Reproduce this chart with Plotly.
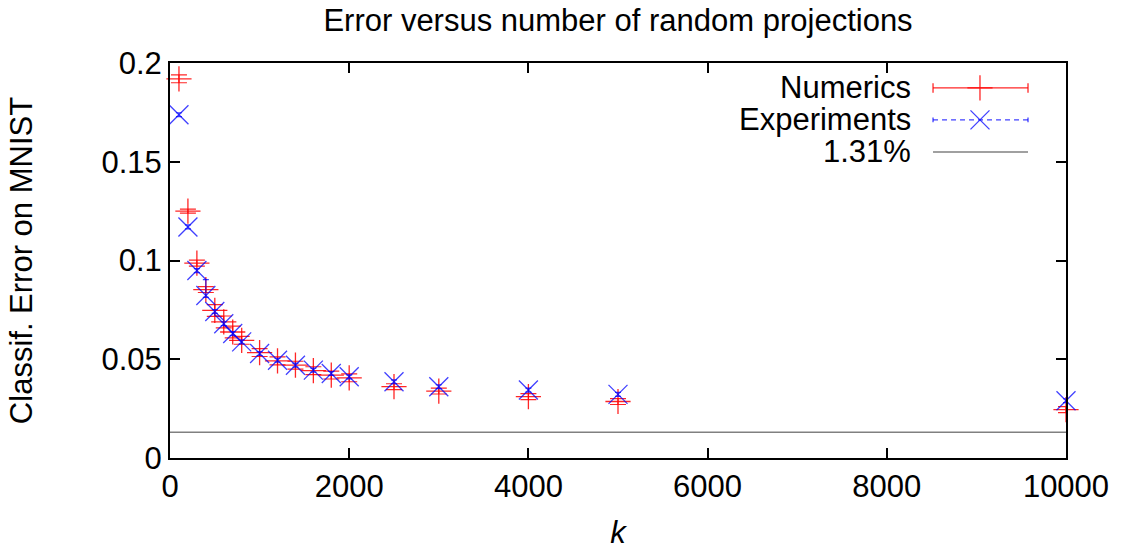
import plotly.graph_objects as go

# ---- data ----
k_values = [100, 200, 300, 400, 500, 600, 700, 800, 1000, 1200, 1400, 1600, 1800, 2000, 2500, 3000, 4000, 5000, 10000]
numerics = [0.192, 0.125, 0.0987, 0.0853, 0.0747, 0.0689, 0.0638, 0.0596, 0.0534, 0.0492, 0.0470, 0.0442,
            0.0420, 0.0406, 0.0361, 0.0339, 0.0311, 0.0286, 0.0245]
numerics_err = [0.002, 0.001, 0.0015, 0.0015, 0.003, 0.003, 0.003, 0.002, 0.002, 0.002, 0.002, 0.002,
                0.002, 0.002, 0.0015, 0.0015, 0.0015, 0.0015, 0.0015]
experiments = [0.1738, 0.117, 0.0949, 0.0823, 0.0742, 0.068, 0.063, 0.0588, 0.0529, 0.0495, 0.0470, 0.0445,
               0.0428, 0.0411, 0.0386, 0.0361, 0.0344, 0.0322, 0.029]
experiments_err_up = [0.001, 0.001, 0.001, 0.008, 0.001, 0.001, 0.001, 0.001, 0.001, 0.001, 0.001, 0.001,
                      0.001, 0.001, 0.001, 0.001, 0.001, 0.001, 0.001]
experiments_err_down = [0.001] * len(k_values)
baseline = 0.0131
x_ticks = [0, 2000, 4000, 6000, 8000, 10000]
y_ticks = [0, 0.05, 0.1, 0.15, 0.2]
legend_names = ["Numerics", "Experiments", "1.31%"]

RED = "rgba(255,0,0,0.85)"
BLUE = "rgba(0,0,255,0.75)"
GRAY = "rgb(128,128,128)"
FONT = "Liberation Sans, Arial, sans-serif"

fig = go.Figure()

# baseline
fig.add_trace(go.Scatter(x=[0, 10000], y=[baseline, baseline], mode="lines",
                         line=dict(color=GRAY, width=1.5), showlegend=False, hoverinfo="skip"))

fig.add_trace(go.Scatter(
    x=k_values, y=numerics, mode="markers",
    marker=dict(symbol="cross-thin", size=18, line=dict(color=RED, width=1.3)),
    error_y=dict(type="data", array=numerics_err, color=RED, thickness=1.2, width=8),
    showlegend=False, cliponaxis=False))

fig.add_trace(go.Scatter(
    x=k_values, y=experiments, mode="markers",
    marker=dict(symbol="x-thin", size=19, line=dict(color=BLUE, width=1.3)),
    error_y=dict(type="data", array=experiments_err_up, arrayminus=experiments_err_down,
                 color=BLUE, thickness=1.2, width=3),
    showlegend=False, cliponaxis=False))

# ---- custom gnuplot-style legend on overlay axes (0..1) ----
lx0, lx1, lxc = 0.8516, 0.9576, 0.904
rows = [0.937, 0.856, 0.775]
cap = 0.012
# Numerics sample
fig.add_trace(go.Scatter(x=[lx0, lx1], y=[rows[0], rows[0]], mode="lines", xaxis="x2", yaxis="y2",
                         line=dict(color=RED, width=1.3), showlegend=False, hoverinfo="skip"))
fig.add_trace(go.Scatter(x=[lx0, lx0, None, lx1, lx1], y=[rows[0]-cap, rows[0]+cap, None, rows[0]-cap, rows[0]+cap],
                         mode="lines", xaxis="x2", yaxis="y2",
                         line=dict(color=RED, width=1.3), showlegend=False, hoverinfo="skip"))
fig.add_trace(go.Scatter(x=[lxc], y=[rows[0]], mode="markers", xaxis="x2", yaxis="y2",
                         marker=dict(symbol="cross-thin", size=18, line=dict(color=RED, width=1.3)),
                         showlegend=False, hoverinfo="skip"))
# Experiments sample
fig.add_trace(go.Scatter(x=[lx0, lx1], y=[rows[1], rows[1]], mode="lines", xaxis="x2", yaxis="y2",
                         line=dict(color=BLUE, width=1.3, dash="5px,4px"), showlegend=False, hoverinfo="skip"))
fig.add_trace(go.Scatter(x=[lx0, lx0, None, lx1, lx1], y=[rows[1]-cap/2, rows[1]+cap/2, None, rows[1]-cap/2, rows[1]+cap/2],
                         mode="lines", xaxis="x2", yaxis="y2",
                         line=dict(color=BLUE, width=1.3), showlegend=False, hoverinfo="skip"))
fig.add_trace(go.Scatter(x=[lxc], y=[rows[1]], mode="markers", xaxis="x2", yaxis="y2",
                         marker=dict(symbol="x-thin", size=19, line=dict(color=BLUE, width=1.3)),
                         showlegend=False, hoverinfo="skip"))
# baseline sample
fig.add_trace(go.Scatter(x=[lx0, lx1], y=[rows[2], rows[2]], mode="lines", xaxis="x2", yaxis="y2",
                         line=dict(color=GRAY, width=1.5), showlegend=False, hoverinfo="skip"))

for name, ry in zip(legend_names, rows):
    fig.add_annotation(x=0.829, y=ry, xref="x2", yref="y2", text=name, showarrow=False,
                       xanchor="right", yanchor="middle", font=dict(size=31, color="black", family=FONT))

fig.update_layout(
    width=1127, height=556,
    margin=dict(l=170, r=61, t=63, b=96),
    plot_bgcolor="white", paper_bgcolor="white",
    font=dict(family=FONT, size=31, color="black"),
    title=dict(text="Error versus number of random projections", x=0.5, xref="paper",
               y=1 - 20 / 556, yref="container", yanchor="middle", font=dict(size=31)),
    xaxis=dict(range=[0, 10000], tickvals=x_ticks, ticktext=[str(v) for v in x_ticks],
               showgrid=False, zeroline=False, showline=True, linecolor="black", linewidth=2,
               mirror="ticks", ticks="inside", ticklen=10, tickwidth=1.5, tickcolor="black",
               title=dict(text="<i>k</i>", standoff=18, font=dict(size=31)), tickfont=dict(size=31)),
    yaxis=dict(range=[0, 0.2], tickvals=y_ticks, ticktext=["0", "0.05", "0.1", "0.15", "0.2"],
               showgrid=False, zeroline=False, showline=True, linecolor="black", linewidth=2,
               mirror="ticks", ticks="inside", ticklen=10, tickwidth=1.5, tickcolor="black",
               title=dict(text="Classif. Error on MNIST", standoff=60, font=dict(size=31)),
               tickfont=dict(size=31)),
    xaxis2=dict(range=[0, 1], overlaying="x", visible=False, fixedrange=True),
    yaxis2=dict(range=[0, 1], overlaying="y", visible=False, fixedrange=True),
)

fig.write_html("out.html", config={"displayModeBar": False},
               post_script="document.body.style.margin='0px';document.body.style.overflow='hidden';")
